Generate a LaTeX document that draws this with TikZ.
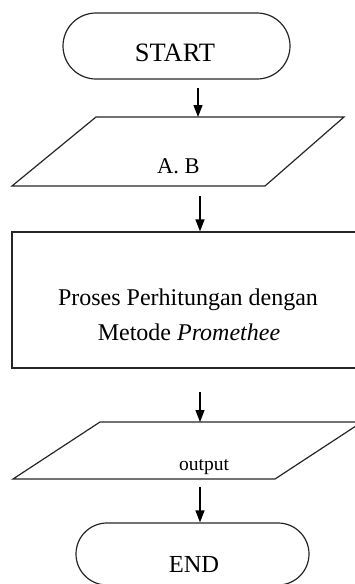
\documentclass[tikz,border=0pt]{standalone}
\usepackage{fontspec}
\setmainfont{Liberation Serif}
\usetikzlibrary{arrows.meta,shapes.misc}
\begin{document}
\begin{tikzpicture}[x=1pt,y=-1pt,
  outline/.style={draw=black!85, line width=1.2pt},
  terminal/.style={outline, rounded rectangle, inner sep=0pt},
  flow/.style={draw=black, line width=1.3pt, -{Triangle[length=12pt,width=9pt]}},
  txt/.style={inner sep=0pt, anchor=base, font=\fontsize{#1}{#1}\selectfont}
]
\useasboundingbox (0,0) rectangle (355,584);
\clip (0,0) rectangle (355,584);

% start terminal
\node[terminal, minimum width=227pt, minimum height=66pt] (start) at (176.5,46) {};
\node[txt=26.5] (startlbl) at (175,61) {START};

% input A, B
\coordinate (ab-nw) at (96,117);
\coordinate (ab-ne) at (344,117);
\coordinate (ab-se) at (265,186);
\coordinate (ab-sw) at (12,186);
\draw[outline] (ab-nw) -- (ab-ne) -- (ab-se) -- (ab-sw) -- cycle;
\node[txt=22.5] (ab) at (178.5,173) {A. B};

% process box
\node[outline, inner sep=0pt, minimum width=353pt, minimum height=136pt] (proc) at (188.5,300) {};
\node[txt=24] (proc1) at (188,305) {Proses Perhitungan dengan};
\node[txt=24] (proc2) at (189,340) {Metode \textit{Promethee}};

% output
\coordinate (out-nw) at (100,422);
\coordinate (out-ne) at (362,422);
\coordinate (out-se) at (275,479);
\coordinate (out-sw) at (13,479);
\draw[outline] (out-nw) -- (out-ne) -- (out-se) -- (out-sw) -- cycle;
\node[txt=19.5] (out) at (204,470) {output};

% end terminal
\node[terminal, minimum width=233pt, minimum height=62pt] (end) at (192.5,554) {};
\node[txt=24.5] (endlbl) at (194,572) {END};

% connectors
\coordinate (a1) at (198,88);
\coordinate (a2) at (200,196);
\coordinate (a3) at (200,392);
\coordinate (a4) at (200,487);
\draw[flow] (a1) -- (a1 |- ab-nw);
\draw[flow] (a2) -- (a2 |- proc.north);
\draw[flow] (a3) -- (a3 |- out-nw);
\draw[flow] (a4) -- (a4 |- end.north);
\end{tikzpicture}
\end{document}
